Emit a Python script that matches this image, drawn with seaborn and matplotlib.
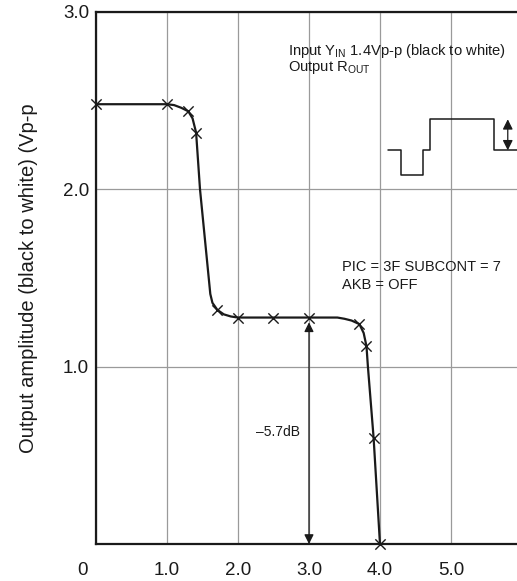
import numpy as np
import matplotlib
matplotlib.use('Agg')
import matplotlib.pyplot as plt
import matplotlib.transforms as mtransforms
import seaborn as sns

# Curva de salida
curve_x = [0.0, 1.0, 1.1, 1.2, 1.3, 1.36, 1.41, 1.465, 1.61, 1.64, 1.71, 1.8, 1.9, 2.0,
           3.0, 3.4, 3.5, 3.6, 3.71, 3.77, 3.81, 3.83, 3.91, 4.0]
curve_y = [2.48, 2.48, 2.475, 2.46, 2.44, 2.40, 2.32, 2.0, 1.41, 1.36, 1.32, 1.295, 1.283, 1.277,
           1.277, 1.277, 1.27, 1.26, 1.24, 1.19, 1.115, 1.0, 0.6, 0.0]

# Puntos medidos (marcadores x)
point_x = [0.0, 1.0, 1.3, 1.41, 1.71, 2.0, 2.5, 3.0, 3.71, 3.81, 3.91, 4.0]
point_y = [2.48, 2.48, 2.44, 2.32, 1.32, 1.277, 1.277, 1.277, 1.24, 1.115, 0.6, 0.0]

# Forma de onda de ejemplo (esquina superior derecha)
wave_x = [4.11, 4.30, 4.61, 4.71, 5.60, 5.93]
wave_y = [2.22, 2.08, 2.22, 2.395, 2.22, 2.22]

x_ticks = [0, 1, 2, 3, 4, 5]
x_labels = ['0', '1.0', '2.0', '3.0', '4.0', '5.0']
y_ticks = [1, 2, 3]
y_labels = ['1.0', '2.0', '3.0']


def make_plot():
    sns.set_style('white')
    plt.rcParams['font.family'] = ['Liberation Sans', 'DejaVu Sans']
    plt.rcParams['mathtext.fontset'] = 'custom'
    plt.rcParams['mathtext.rm'] = 'Liberation Sans'

    fig = plt.figure(figsize=(5.17, 5.81), dpi=100)
    ax = fig.add_axes([96 / 517, 37 / 581, 421 / 517, 532 / 581])

    # Curva + marcadores
    sns.lineplot(x=curve_x, y=curve_y, sort=False, estimator=None, color='#1a1a1a',
                 lw=1.6, ax=ax, zorder=3)
    sns.scatterplot(x=point_x, y=point_y, marker='x', s=55, color='#1a1a1a',
                    linewidth=1.0, ax=ax, zorder=4, clip_on=False)

    # Forma de onda
    sns.lineplot(x=wave_x, y=wave_y, drawstyle='steps-post', estimator=None,
                 color='#1a1a1a', lw=1.1, ax=ax, zorder=3)
    ax.annotate('', xy=(5.80, 2.395), xytext=(5.80, 2.22),
                arrowprops=dict(arrowstyle='<|-|>', color='#1a1a1a', lw=0.9,
                                mutation_scale=15, shrinkA=0, shrinkB=0))

    # Flecha -5.7dB
    ax.annotate('', xy=(3.0, 1.25), xytext=(3.0, 0.0),
                arrowprops=dict(arrowstyle='<|-|>', color='#1a1a1a', lw=0.9,
                                mutation_scale=14, shrinkA=0, shrinkB=0))
    ax.text(2.56, 0.63, '\u20135.7dB', fontsize=10, ha='center', va='center', color='#1a1a1a')

    ax.text(2.70, 2.78, r'Input Y$_{\mathregular{IN}}$ 1.4Vp-p (black to white)',
            fontsize=10.6, ha='left', va='center', color='#1a1a1a')
    ax.text(2.70, 2.685, r'Output R$_{\mathregular{OUT}}$',
            fontsize=10.6, ha='left', va='center', color='#1a1a1a')
    ax.text(3.47, 1.56, 'PIC = 3F SUBCONT = 7', fontsize=10.5, ha='left', va='center',
            color='#1a1a1a')
    ax.text(3.47, 1.46, 'AKB = OFF', fontsize=10.5, ha='left', va='center', color='#1a1a1a')

    # Ejes
    ax.set_xlim(0, 5.93)
    ax.set_ylim(0, 3.0)
    ax.set_xticks(x_ticks)
    ax.set_xticklabels(x_labels, fontsize=13.5)
    ax.set_yticks(y_ticks)
    ax.set_yticklabels(y_labels, fontsize=13.5)
    ax.tick_params(axis='x', length=0, pad=13, colors='#1a1a1a')
    ax.tick_params(axis='y', length=0, pad=5, colors='#1a1a1a')
    # el "0" va corrido a la izquierda
    shift = mtransforms.ScaledTranslation(-13 / 100, 0, fig.dpi_scale_trans)
    lbl0 = ax.get_xticklabels()[0]
    lbl0.set_transform(lbl0.get_transform() + shift)

    ax.grid(True, color='#9a9a9a', lw=0.9)
    ax.set_axisbelow(True)
    for side in ['left', 'bottom', 'top']:
        ax.spines[side].set_color('#1a1a1a')
        ax.spines[side].set_linewidth(1.6)
    ax.spines['right'].set_visible(False)

    ax.set_ylabel('Output amplitude (black to white) (Vp-p', fontsize=14.5, color='#1a1a1a',
                  labelpad=18)
    ax.set_xlabel('')

    fig.savefig('out.png', dpi=100)
    plt.close(fig)


if __name__ == '__main__':
    make_plot()
